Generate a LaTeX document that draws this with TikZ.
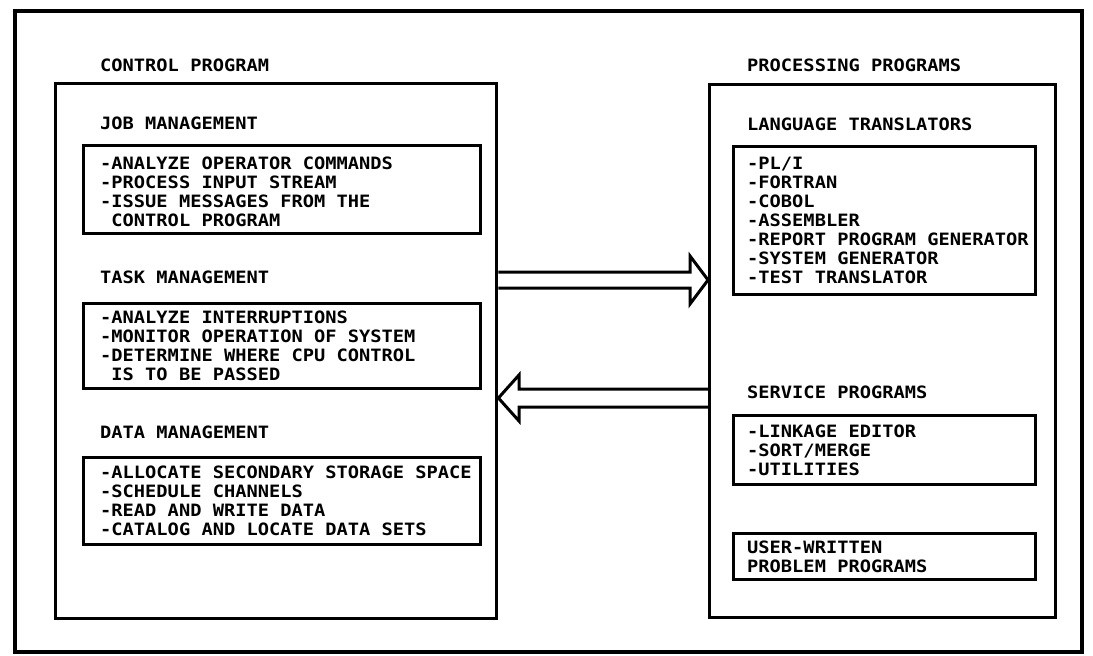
\documentclass[tikz,border=0pt]{standalone}
\usepackage{fontspec}
\newfontfamily\ibm{DejaVu Sans Mono}[FakeStretch=1.10]
\begin{document}
\begin{tikzpicture}[x=1pt,y=-1pt,
  frame/.style={draw,line width=4.5pt},
  bigbox/.style={draw,line width=3.4pt,anchor=north west,inner sep=0pt},
  smallbox/.style={draw,line width=3pt,anchor=north west,inner sep=0pt},
  txt/.style={anchor=west,inner sep=0pt,align=left,font=\ibm\bfseries\fontsize{17}{19}\selectfont},
  fat/.style={draw,line width=3pt,line join=miter}]
\useasboundingbox (0,0) rectangle (1093,656);
\draw[frame] (15,11) rectangle (1082,652);
% left column
\node[txt] (cptitle) at (100,65) {CONTROL PROGRAM};
\node[bigbox,minimum width=441pt,minimum height=535pt] (cp) at (54,82) {};
\node[txt] (jmh) at (100,123) {JOB MANAGEMENT};
\node[smallbox,minimum width=397pt,minimum height=88pt] (jm) at (82,144) {};
\node[txt] (jmt) at ([xshift=18pt,yshift=-2pt]jm.west) {-ANALYZE OPERATOR COMMANDS\\-PROCESS INPUT STREAM\\-ISSUE MESSAGES FROM THE\\\ CONTROL PROGRAM};
\node[txt] (tmh) at (100,277) {TASK MANAGEMENT};
\node[smallbox,minimum width=397pt,minimum height=85pt] (tm) at (82,302) {};
\node[txt] (tmt) at ([xshift=18pt]tm.west) {-ANALYZE INTERRUPTIONS\\-MONITOR OPERATION OF SYSTEM\\-DETERMINE WHERE CPU CONTROL\\\ IS TO BE PASSED};
\node[txt] (dmh) at (100,432) {DATA MANAGEMENT};
\node[smallbox,minimum width=397pt,minimum height=87pt] (dm) at (82,456) {};
\node[txt] (dmt) at ([xshift=18pt]dm.west) {-ALLOCATE SECONDARY STORAGE SPACE\\-SCHEDULE CHANNELS\\-READ AND WRITE DATA\\-CATALOG AND LOCATE DATA SETS};
% right column
\node[txt] (pptitle) at (747,65) {PROCESSING PROGRAMS};
\node[bigbox,minimum width=346pt,minimum height=533pt] (pp) at (708,83) {};
\node[txt] (lth) at (747,124) {LANGUAGE TRANSLATORS};
\node[smallbox,minimum width=302pt,minimum height=148pt] (lt) at (732,145) {};
\node[txt] (ltt) at ([xshift=15pt]lt.west) {-PL/I\\-FORTRAN\\-COBOL\\-ASSEMBLER\\-REPORT PROGRAM GENERATOR\\-SYSTEM GENERATOR\\-TEST TRANSLATOR};
\node[txt] (sph) at (747,392) {SERVICE PROGRAMS};
\node[smallbox,minimum width=302pt,minimum height=69pt] (sp) at (732,414) {};
\node[txt] (spt) at ([xshift=15pt]sp.west) {-LINKAGE EDITOR\\-SORT/MERGE\\-UTILITIES};
\node[smallbox,minimum width=302pt,minimum height=46pt] (up) at (732,532) {};
\node[txt] (upt) at ([xshift=15pt]up.west) {USER-WRITTEN\\PROBLEM PROGRAMS};
% arrows
\coordinate (ra1) at (0,272); \coordinate (ra2) at (0,288); \coordinate (rac) at (0,280);
\coordinate (rh1) at (690,256); \coordinate (rh2) at (690,304);
\draw[fat] (cp.east |- ra1) -- (rh1 |- ra1) -- (rh1) -- (pp.west |- rac) -- (rh2) -- (rh2 |- ra2) -- (cp.east |- ra2);
\coordinate (la1) at (0,389); \coordinate (la2) at (0,407); \coordinate (lac) at (0,398);
\coordinate (lh1) at (519,375); \coordinate (lh2) at (519,421);
\draw[fat] (pp.west |- la1) -- (lh1 |- la1) -- (lh1) -- (cp.east |- lac) -- (lh2) -- (lh2 |- la2) -- (pp.west |- la2);
\end{tikzpicture}
\end{document}
